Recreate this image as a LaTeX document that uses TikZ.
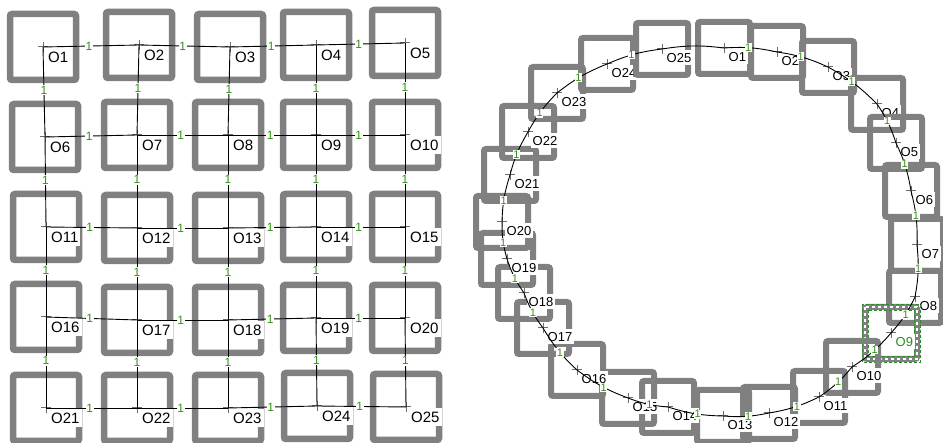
\documentclass[tikz,border=0pt]{standalone}
\usepackage{fontspec}
\setmainfont{Liberation Sans}
\definecolor{framegray}{RGB}{128,128,128}
\definecolor{lblgreen}{RGB}{50,145,20}
\definecolor{selgreen}{RGB}{40,140,40}
\tikzset{
  gframe/.style={draw=framegray, line width=6.5pt, rounded corners=2pt, minimum size=66pt, inner sep=0pt},
  cframe/.style={draw=framegray, line width=6pt, rounded corners=2pt, minimum size=52pt, inner sep=0pt},
  glab/.style={anchor=north west, fill=white, inner xsep=2pt, inner ysep=3.5pt, font=\fontsize{15}{18}\selectfont, text=black},
  clab/.style={anchor=north west, fill=white, inner xsep=1.5pt, inner ysep=3pt, font=\fontsize{13}{15}\selectfont, text=black},
  elab/.style={fill=white, inner sep=0.8pt, text=lblgreen, font=\fontsize{12}{13}\selectfont},
  celab/.style={fill=white, inner sep=0.6pt, text=lblgreen, font=\fontsize{11}{12}\selectfont},
  edgeline/.style={draw=black, line width=0.9pt},
  crossmark/.style={draw=framegray!85!black, line width=1pt}
}
\newcommand{\plusmark}[1]{\draw[crossmark] ([xshift=-5pt]#1) -- ([xshift=5pt]#1) ([yshift=-5pt]#1) -- ([yshift=5pt]#1);}
\newcommand{\gnode}[4]{\coordinate (#1) at (#2,#3); \node[gframe] (#1f) at (#1) {}; \plusmark{#1} \node[glab] (#1l) at ([shift={(3,1)}]#1) {#4};}
\newcommand{\cnode}[4]{\coordinate (#1) at (#2,#3); \node[cframe] (#1f) at (#1) {}; \plusmark{#1} \node[clab] (#1l) at ([shift={(3,1)}]#1) {#4};}
\begin{document}
\begin{tikzpicture}[x=1pt,y=-1pt]
\useasboundingbox (0,0) rectangle (943,443);
% ---------- grid ----------
\gnode{g1}{43}{47}{O1}
\gnode{g2}{139}{45}{O2}
\gnode{g3}{230}{47}{O3}
\gnode{g4}{316}{45}{O4}
\gnode{g5}{405}{43}{O5}
\gnode{g6}{45}{137}{O6}
\gnode{g7}{137}{135}{O7}
\gnode{g8}{228}{135}{O8}
\gnode{g9}{316}{135}{O9}
\gnode{g10}{405}{135}{O10}
\gnode{g11}{46}{227}{O11}
\gnode{g12}{137}{228}{O12}
\gnode{g13}{228}{228}{O13}
\gnode{g14}{316}{227}{O14}
\gnode{g15}{405}{227}{O15}
\gnode{g16}{46}{317}{O16}
\gnode{g17}{137}{320}{O17}
\gnode{g18}{228}{320}{O18}
\gnode{g19}{316}{318}{O19}
\gnode{g20}{405}{318}{O20}
\gnode{g21}{46}{408}{O21}
\gnode{g22}{137}{408}{O22}
\gnode{g23}{228}{408}{O23}
\gnode{g24}{317}{406}{O24}
\gnode{g25}{406}{407}{O25}
\foreach \r in {0,...,4}{
  \foreach \c in {1,...,4}{
    \pgfmathtruncatemacro\a{5*\r+\c}
    \pgfmathtruncatemacro\b{\a+1}
    \draw[edgeline] (g\a) -- node[elab,pos=0.48]{1} (g\b);
  }
}
\foreach \a in {1,...,20}{
  \pgfmathtruncatemacro\b{\a+5}
  \draw[edgeline] (g\a) -- node[elab,pos=0.48]{1} (g\b);
}
% ---------- circle ----------
\cnode{c1}{724}{48}{O1}
\cnode{c2}{777}{52}{O2}
\cnode{c3}{828}{67}{O3}
\cnode{c4}{877}{104}{O4}
\cnode{c5}{896}{143}{O5}
\cnode{c6}{911}{191}{O6}
\cnode{c7}{917}{245}{O7}
\cnode{c8}{915}{297}{O8}
% selected node O9
\coordinate (c9) at (891,333);
\node[cframe] (c9f) at (c9) {};
\draw[selgreen, line width=0.9pt, dash pattern=on 3pt off 2pt] ([shift={(-29,-29)}]c9) rectangle ([shift={(29,29)}]c9);
\draw[white, line width=1.2pt, dash pattern=on 3pt off 3pt] ([shift={(-26,-26)}]c9) rectangle ([shift={(26,26)}]c9);
\draw[selgreen, line width=0.9pt, dash pattern=on 3pt off 2pt] ([shift={(-23,-23)}]c9) rectangle ([shift={(23,23)}]c9);
\plusmark{c9}
\node[clab, text=selgreen] (c9l) at ([shift={(3,1)}]c9) {O9};
\cnode{c10}{852}{367}{O10}
\cnode{c11}{819}{397}{O11}
\cnode{c12}{769}{413}{O12}
\cnode{c13}{723}{416}{O13}
\cnode{c14}{668}{407}{O14}
\cnode{c15}{628}{398}{O15}
\cnode{c16}{577}{370}{O16}
\cnode{c17}{543}{328}{O17}
\cnode{c18}{524}{293}{O18}
\cnode{c19}{507}{259}{O19}
\cnode{c20}{502}{222}{O20}
\cnode{c21}{510}{175}{O21}
\cnode{c22}{528}{132}{O22}
\cnode{c23}{557}{93}{O23}
\cnode{c24}{607}{64}{O24}
\cnode{c25}{662}{49}{O25}
\foreach \a in {1,...,24}{
  \pgfmathtruncatemacro\b{\a+1}
  \draw[edgeline] (c\a) to[bend left=8] node[celab,pos=0.45]{1} (c\b);
}
\draw[edgeline] (c25) to[bend left=8] (c1);
\end{tikzpicture}
\end{document}
